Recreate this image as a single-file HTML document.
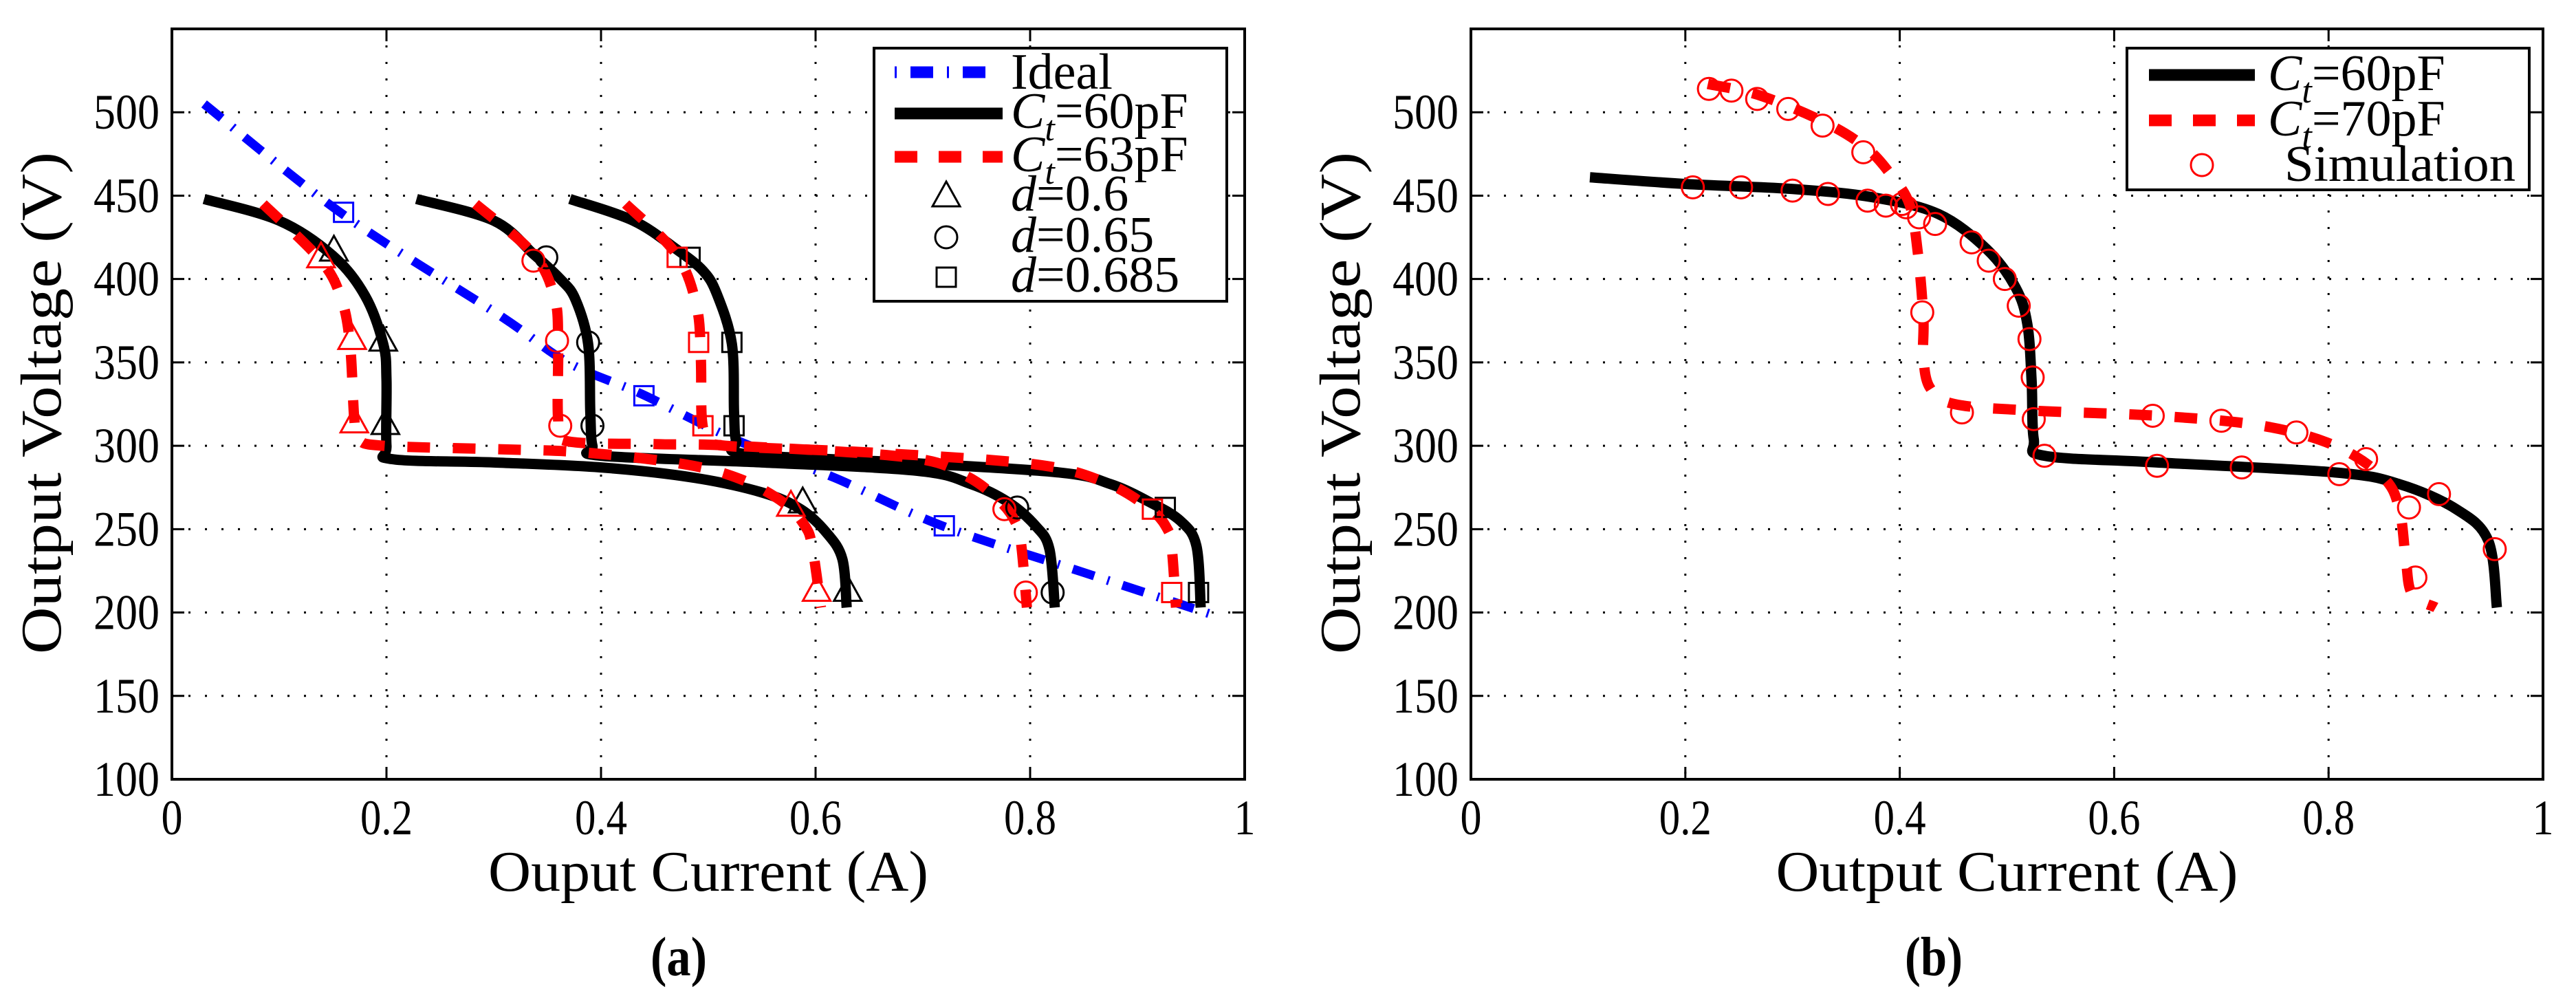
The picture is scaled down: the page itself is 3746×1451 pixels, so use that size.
<!DOCTYPE html>
<html><head><meta charset="utf-8"><style>
html,body{margin:0;padding:0;background:#fff;}
svg{display:block;}
text{font-family:"Liberation Serif",serif;fill:#000;}
</style></head><body>
<svg id="fig" width="3746" height="1451" viewBox="0 0 3746 1451" xmlns="http://www.w3.org/2000/svg">
<g id="pa"></g>
<g id="pb"></g>
<text x="987" y="1418" text-anchor="middle" font-size="80" font-weight="bold" textLength="82" lengthAdjust="spacingAndGlyphs">(a)</text>
<text x="2812" y="1418" text-anchor="middle" font-size="80" font-weight="bold" textLength="84" lengthAdjust="spacingAndGlyphs">(b)</text>
</svg>
<script>
const xTicks=[0,0.2,0.4,0.6,0.8,1];
const xTickLabels=["0","0.2","0.4","0.6","0.8","1"];
const yTicks=[100,150,200,250,300,350,400,450,500];
// Panel (a)
const idealX=[0.03,0.159,0.306,0.369,0.438,0.524,0.617,0.718,0.85,0.978];
const idealY=[505,439,378,350,331,304,281,252,224,197];
const idealMkX=[0.16,0.44,0.72];
const idealMkY=[440,330,252];
const b1X=[0.03,0.1,0.15,0.18,0.197,0.2,0.2,0.205,0.3,0.4,0.485,0.55,0.586,0.61,0.625,0.629];
const b1Y=[448,435,414,390,361,340,300,292,290,287,281,272,262,248,232,203];
const b2X=[0.228,0.3,0.337,0.362,0.376,0.388,0.39,0.392,0.4,0.55,0.695,0.745,0.78,0.805,0.818,0.823];
const b2Y=[448,435,415,400,388,361,320,300,294,290,285,277,266,252,238,203];
const b3X=[0.371,0.43,0.47,0.495,0.508,0.522,0.524,0.526,0.535,0.68,0.827,0.875,0.912,0.94,0.955,0.959];
const b3Y=[448,435,418,405,391,361,320,303,295,290,284,277,266,255,240,203];
const r1X=[0.085,0.139,0.158,0.166,0.17,0.174,0.197,0.3,0.384,0.477,0.53,0.57,0.59,0.597,0.605];
const r1Y=[445,411,388,361,316,304,300,298,296,289,280,266,252,239,203];
const r2X=[0.283,0.337,0.357,0.36,0.36,0.367,0.45,0.524,0.687,0.74,0.773,0.788,0.792,0.797];
const r2Y=[445,415,388,361,316,303,301,300,293,282,266,252,239,203];
const r3X=[0.423,0.47,0.489,0.493,0.494,0.5,0.516,0.65,0.803,0.87,0.912,0.928,0.932,0.936];
const r3Y=[445,415,384,353,316,305,300,296,289,278,262,250,239,203];
const triBX=[0.151,0.197,0.199,0.588,0.63], triBY=[416,362,312,265,212];
const triRX=[0.139,0.168,0.17,0.577,0.601], triRY=[412,363,313,263,212];
const cirBX=[0.349,0.388,0.392,0.788,0.821], cirBY=[413,362,312,263,212];
const cirRX=[0.337,0.359,0.362,0.776,0.796], cirRY=[411,363,312,262,212];
const sqBX=[0.483,0.522,0.524,0.926,0.957], sqBY=[413,362,312,263,212];
const sqRX=[0.471,0.491,0.495,0.914,0.932], sqRY=[413,362,312,262,212];
// Panel (b)
const k60X=[0.111,0.2,0.3,0.375,0.436,0.481,0.508,0.519,0.523,0.525,0.535,0.64,0.806,0.866,0.919,0.949,0.957];
const k60Y=[461,457,454,449,439,418,395,373,339,304,294,290,284,277,262,243,203];
const k70X=[0.221,0.27,0.33,0.368,0.39,0.409,0.417,0.422,0.422,0.428,0.451,0.526,0.64,0.738,0.806,0.851,0.866,0.872,0.878,0.9];
const k70Y=[517,510,494,479,464,445,415,377,354,335,325,321,318,312,300,281,262,232,211,203];
const simX=[0.222,0.243,0.267,0.296,0.328,0.366,0.402,0.421,0.458,0.636,0.7,0.77,0.835,0.875,0.881,0.207,0.252,0.3,0.333,0.37,0.387,0.406,0.418,0.433,0.467,0.483,0.498,0.511,0.521,0.524,0.525,0.535,0.64,0.719,0.81,0.903,0.955];
const simY=[514,513,508,502,492,476,445,380,320,318,315,308,292,263,221,455,455,453,451,447,444,443,437,433,422,411,400,384,364,341,316,294,288,287,283,271,238];

const NS="http://www.w3.org/2000/svg";
const T=42,B=1133;
function mk(tag,attrs,parent){const e=document.createElementNS(NS,tag);for(const k in attrs)e.setAttribute(k,attrs[k]);parent.appendChild(e);return e;}
function tw(s){let w=0;for(const c of s)w+=(c==='.')?14:31;return w;}
function makeAxes(g,L,R,xlabel,xlabelW){
  const sx=v=>L+v*(R-L), sy=v=>T+(550-v)*(B-T)/450;
  for(const t of xTicks.slice(1,-1)){const l=mk('line',{x1:sx(t),x2:sx(t),y1:T,y2:B,stroke:'#000','stroke-width':3,'stroke-dasharray':'3 21'},g);}
  for(const t of yTicks.slice(1)){const l=mk('line',{x1:L,x2:R,y1:sy(t),y2:sy(t),stroke:'#000','stroke-width':3,'stroke-dasharray':'3 21'},g);}
  xTicks.forEach((t,i)=>{
    mk('line',{x1:sx(t),x2:sx(t),y1:B,y2:B-18,stroke:'#000','stroke-width':3},g);
    mk('line',{x1:sx(t),x2:sx(t),y1:T,y2:T+18,stroke:'#000','stroke-width':3},g);
    const tx=mk('text',{x:sx(t),y:1213,'text-anchor':'middle','font-size':72,textLength:tw(xTickLabels[i]),lengthAdjust:'spacingAndGlyphs'},g);tx.textContent=xTickLabels[i];
    
  });
  yTicks.forEach(t=>{
    mk('line',{x1:L,x2:L+18,y1:sy(t),y2:sy(t),stroke:'#000','stroke-width':3},g);
    mk('line',{x1:R,x2:R-18,y1:sy(t),y2:sy(t),stroke:'#000','stroke-width':3},g);
    const tx=mk('text',{x:L-18,y:sy(t)+24,'text-anchor':'end','font-size':72,textLength:96,lengthAdjust:'spacingAndGlyphs'},g);tx.textContent=String(t);
    
  });
  const box=mk('rect',{x:L,y:T,width:R-L,height:B-T,fill:'none',stroke:'#000','stroke-width':4},g);
  
  const xl=mk('text',{x:(L+R)/2,y:1295,'text-anchor':'middle','font-size':84,textLength:xlabelW,lengthAdjust:'spacingAndGlyphs'},g);xl.textContent=xlabel;
  
  const yl=mk('text',{x:0,y:0,'text-anchor':'middle','font-size':84,transform:`translate(${L-162},586) rotate(-90)`,textLength:730,lengthAdjust:'spacingAndGlyphs'},g);yl.textContent='Output Voltage (V)';
  
  return [sx,sy];
}
function smoothPath(P){
  let d='M'+P[0][0]+','+P[0][1];
  for(let i=0;i<P.length-1;i++){
    const p0=P[Math.max(i-1,0)],p1=P[i],p2=P[i+1],p3=P[Math.min(i+2,P.length-1)];
    const c1=[p1[0]+(p2[0]-p0[0])/6,p1[1]+(p2[1]-p0[1])/6];
    const c2=[p2[0]-(p3[0]-p1[0])/6,p2[1]-(p3[1]-p1[1])/6];
    d+=` C${c1[0]},${c1[1]} ${c2[0]},${c2[1]} ${p2[0]},${p2[1]}`;
  }
  return d;
}
function line(g,sx,sy,X,Y,style,name){
  const P=X.map((x,i)=>[sx(x),sy(Y[i])]);
  const p=mk('path',Object.assign({d:smoothPath(P),fill:'none','stroke-linejoin':'round'},style),g);
  return p;
}
function marker(g,type,cx,cy,color,name){
  let e;
  if(type==='tri'){e=mk('polygon',{points:`${cx},${cy-24} ${cx-20},${cy+12} ${cx+20},${cy+12}`,fill:'none',stroke:color,'stroke-width':3},g);}
  else if(type==='cir'){e=mk('circle',{cx:cx,cy:cy,r:16,fill:'none',stroke:color,'stroke-width':3},g);}
  else {e=mk('rect',{x:cx-14,y:cy-14,width:28,height:28,fill:'none',stroke:color,'stroke-width':3},g);}
  return e;
}
const solid={stroke:'#000','stroke-width':15};
const dashed={stroke:'#f00','stroke-width':15,'stroke-dasharray':'33 33'};
const ideal={stroke:'#00f','stroke-width':13,'stroke-dasharray':'33 20 3 20'};

// panel a
const ga=document.getElementById('pa');
let [sx,sy]=makeAxes(ga,250,1810,'Ouput Current (A)',640);
line(ga,sx,sy,idealX,idealY,ideal,'ideal-line');
line(ga,sx,sy,b1X,b1Y,solid,'ct60-d0.6-line');
line(ga,sx,sy,b2X,b2Y,solid,'ct60-d0.65-line');
line(ga,sx,sy,b3X,b3Y,solid,'ct60-d0.685-line');
line(ga,sx,sy,r1X,r1Y,dashed,'ct63-d0.6-line');
line(ga,sx,sy,r2X,r2Y,dashed,'ct63-d0.65-line');
line(ga,sx,sy,r3X,r3Y,dashed,'ct63-d0.685-line');
idealMkX.forEach((x,i)=>marker(ga,'sq',sx(x),sy(idealMkY[i]),'#00f','ideal-marker'));
triBX.forEach((x,i)=>marker(ga,'tri',sx(x),sy(triBY[i]),'#000','triangle-marker'));
triRX.forEach((x,i)=>marker(ga,'tri',sx(x),sy(triRY[i]),'#f00','triangle-marker'));
cirBX.forEach((x,i)=>marker(ga,'cir',sx(x),sy(cirBY[i]),'#000','circle-marker'));
cirRX.forEach((x,i)=>marker(ga,'cir',sx(x),sy(cirRY[i]),'#f00','circle-marker'));
sqBX.forEach((x,i)=>marker(ga,'sq',sx(x),sy(sqBY[i]),'#000','square-marker'));
sqRX.forEach((x,i)=>marker(ga,'sq',sx(x),sy(sqRY[i]),'#f00','square-marker'));

// legend a
const la=mk('g',{},ga);
mk('rect',{x:1271,y:70,width:513,height:368,fill:'#fff',stroke:'#000','stroke-width':4},la);
mk('line',{x1:1301,x2:1438,y1:105,y2:105,stroke:'#00f','stroke-width':17,'stroke-dasharray':'3 20 33 20'},la);
mk('line',{x1:1301,x2:1458,y1:165,y2:165,stroke:'#000','stroke-width':17},la);
mk('line',{x1:1301,x2:1458,y1:228,y2:228,stroke:'#f00','stroke-width':17,'stroke-dasharray':'33 31'},la);
marker(la,'tri',1376,288,'#000','legend-triangle');
marker(la,'cir',1376,345,'#000','legend-circle');
marker(la,'sq',1376,403,'#000','legend-square');
const laT=[['Ideal',129,null],['C','186','=60pF'],['C','249','=63pF'],['d','306','=0.6'],['d','366','=0.65'],['d','424','=0.685']];
laT.forEach(r=>{
  const t=mk('text',{x:1470,y:r[1],'font-size':74},la);
  if(r[2]===null){t.textContent=r[0];}
  else{
    const a=mk('tspan',{'font-style':'italic'},t);a.textContent=r[0];
    if(r[0]==='C'){const s=mk('tspan',{'font-style':'italic','font-size':52,dy:18},t);s.textContent='t';const c=mk('tspan',{dy:-18},t);c.textContent=r[2];}
    else{const c=mk('tspan',{},t);c.textContent=r[2];}
  }
  
});

// panel b
const gb=document.getElementById('pb');
[sx,sy]=makeAxes(gb,2139,3698,'Output Current (A)',672);
line(gb,sx,sy,k60X,k60Y,solid,'ct60-line');
line(gb,sx,sy,k70X,k70Y,dashed,'ct70-line');
simX.forEach((x,i)=>marker(gb,'cir',sx(x),sy(simY[i]),'#f00','simulation-marker'));
const lb=mk('g',{},gb);
mk('rect',{x:3093,y:70,width:585,height:206,fill:'#fff',stroke:'#000','stroke-width':4},lb);
mk('line',{x1:3125,x2:3279,y1:109,y2:109,stroke:'#000','stroke-width':17},lb);
mk('line',{x1:3125,x2:3279,y1:175,y2:175,stroke:'#f00','stroke-width':17,'stroke-dasharray':'33 31'},lb);
marker(lb,'cir',3202,240,'#f00','legend-circle');
[['C',131,'=60pF'],['C',197,'=70pF']].forEach(r=>{
  const t=mk('text',{x:3298,y:r[1],'font-size':74},lb);
  const a=mk('tspan',{'font-style':'italic'},t);a.textContent='C';
  const s=mk('tspan',{'font-style':'italic','font-size':52,dy:18},t);s.textContent='t';
  const c=mk('tspan',{dy:-18},t);c.textContent=r[2];
  
});
const st=mk('text',{x:3322,y:263,'font-size':74,textLength:336,lengthAdjust:'spacingAndGlyphs'},lb);st.textContent='Simulation';

</script>
</body></html>
